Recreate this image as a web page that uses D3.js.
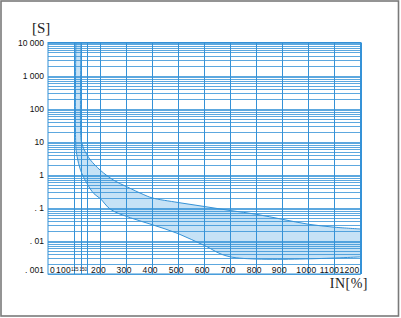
<!DOCTYPE html>
<html><head><meta charset="utf-8">
<script src="https://cdn.jsdelivr.net/npm/d3@7"></script>
<style>
html,body{margin:0;padding:0;background:#fff;}
svg{display:block;}
</style></head>
<body>
<svg id="c" width="401" height="318"></svg>
<script>
// ---- data ----
const yTickValues = [10000, 1000, 100, 10, 1, 0.1, 0.01, 0.001];
const yTickLabels = ["10 000", "1 000", "100", "10", "1", ". 1", ". 01", ". 001"];
const xTickValues = [0, 100, 125, 150, 200, 300, 400, 500, 600, 700, 800, 900, 1000, 1100, 1200];
const xTickLabels = ["0", "100", "125", "150", "200", "300", "400", "500", "600", "700", "800", "900", "1000", "1100", "1200"];
const xGridValues = [100, 125, 150, 200, 300, 400, 500, 600, 700, 800, 900, 1000, 1100, 1200];
// upper (right) boundary of the tripping band
const upperX = [127, 127, 131, 137, 150, 163, 201, 253, 304, 368, 400, 500, 600, 700, 800, 900, 1000, 1100, 1200];
const upperY = [10000, 11, 8.5, 6.2, 4.0, 2.8, 1.37, 0.68, 0.43, 0.25, 0.2, 0.145, 0.11, 0.083, 0.064, 0.045, 0.032, 0.026, 0.023];
// lower (left) boundary of the tripping band
const lowerX = [107, 107, 112, 125, 150, 176, 201, 240, 317, 400, 500, 600, 700, 1200];
const lowerY = [10000, 7, 3.5, 1.37, 0.54, 0.27, 0.19, 0.09, 0.05, 0.031, 0.0166, 0.0073, 0.0033, 0.0033];

// ---- layout ----
const L = 48, R = 360.5, T = 42.5, B = 274;
const blue = "#3592d7", fillBlue = "#c6e2f6";
const svg = d3.select("#c");

const x = d3.scaleLinear().domain([0, 1200]).range([L, R]);
const y = d3.scaleLog().domain([0.001, 10000]).range([B, T]);

// outer frame
svg.append("rect").attr("x", 1).attr("y", 1).attr("width", 397.5).attr("height", 315)
  .attr("fill", "#fff").attr("stroke", "#7a7a7a").attr("stroke-width", 1.6);

// band fill
const up = upperX.map((v, i) => [x(v), y(upperY[i])]);
const lo = lowerX.map((v, i) => [x(v), y(lowerY[i])]);
const lineGen = d3.line().curve(d3.curveCatmullRom.alpha(0.5));
const areaPath = lineGen(up) + "L" + lineGen(lo.slice().reverse()).slice(1) + "Z";
svg.append("path").attr("d", areaPath).attr("fill", fillBlue).attr("stroke", "none");

// horizontal grid (log)
const g = svg.append("g").attr("stroke", blue).attr("stroke-width", 1).attr("fill", "none");
const hVals = [];
for (let e = -3; e < 4; e++) for (let k = 1; k <= 9; k++) hVals.push(k * Math.pow(10, e));
hVals.push(10000);
g.selectAll("line.h").data(hVals).enter().append("line")
  .attr("x1", L).attr("x2", R)
  .attr("y1", d => Math.round(y(d)) + 0.5).attr("y2", d => Math.round(y(d)) + 0.5)
  .attr("stroke-opacity", 0.8);
// vertical grid
g.selectAll("line.v").data(xGridValues).enter().append("line")
  .attr("y1", T).attr("y2", B)
  .attr("x1", d => Math.round(x(d)) + 0.5).attr("x2", d => Math.round(x(d)) + 0.5);

// curves
svg.append("path").attr("d", lineGen(up)).attr("fill", "none").attr("stroke", blue).attr("stroke-width", 1);
svg.append("path").attr("d", lineGen(lo)).attr("fill", "none").attr("stroke", blue).attr("stroke-width", 1);

// plot frame
svg.append("rect").attr("x", L).attr("y", T).attr("width", R - L).attr("height", B - T)
  .attr("fill", "none").attr("stroke", blue).attr("stroke-width", 1);

// y labels
const yl = svg.append("g").attr("font-family", "Liberation Sans, Arial, sans-serif")
  .attr("font-size", 8.5).attr("fill", "#111").attr("text-anchor", "end");
yTickValues.forEach((v, i) => {
  const by = v === 0.001 ? B - 1 : y(v) + 3.2;
  yl.append("text").attr("x", 44).attr("y", by).text(yTickLabels[i]);
});

// x labels
const xOffsets = {0: 4.5, 100: -10.5, 125: -5.8, 150: -3.8, 200: -1.5, 300: -2, 400: -2, 500: -2, 600: -2, 700: -2, 800: -2, 900: -3, 1000: -2, 1100: -5, 1200: -11};
const xl = svg.append("g").attr("font-family", "Liberation Sans, Arial, sans-serif")
  .attr("fill", "#111").attr("text-anchor", "middle");
xTickValues.forEach((v, i) => {
  const tiny = (v === 125 || v === 150);
  xl.append("text").attr("x", x(v) + xOffsets[v]).attr("y", tiny ? B - 3.5 : B - 1)
    .attr("font-size", tiny ? 4.5 : 8.5).attr("letter-spacing", tiny ? 0 : 0.3)
    .text(xTickLabels[i]);
});

// axis titles
svg.append("text").attr("x", 32).attr("y", 33).attr("font-family", "Liberation Serif, serif")
  .attr("font-size", 15).attr("fill", "#222").text("[S]");
svg.append("text").attr("x", 368).attr("y", 288).attr("text-anchor", "end")
  .attr("font-family", "Liberation Serif, serif").attr("font-size", 14).attr("fill", "#222")
  .attr("letter-spacing", 0.5).text("IN[%]");
</script>
</body></html>
